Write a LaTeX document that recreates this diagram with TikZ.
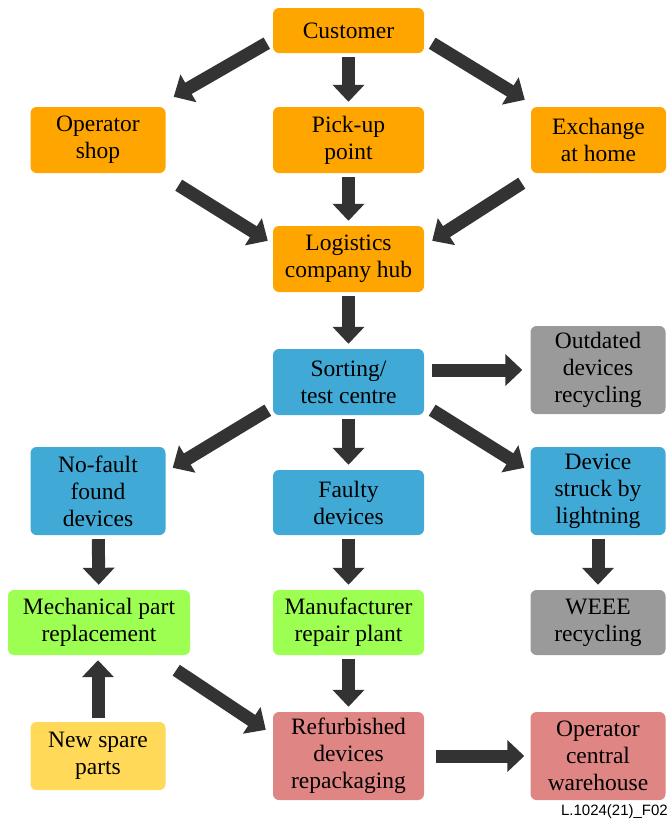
\documentclass[tikz,border=0pt]{standalone}
\usepackage{fontspec}
\setmainfont{Liberation Serif}
\newfontfamily\labelfont{Liberation Sans}
\usetikzlibrary{arrows.meta,calc}
\definecolor{cOrange}{HTML}{FFA500}
\definecolor{cBlue}{HTML}{41A9D5}
\definecolor{cGray}{HTML}{9A9A9A}
\definecolor{cGreen}{HTML}{9CFF52}
\definecolor{cYellow}{HTML}{FFD957}
\definecolor{cPink}{HTML}{DF8583}
\definecolor{cArrow}{HTML}{333333}
\tikzset{
  blk/.style={rounded corners=6pt, inner sep=2pt, align=center,
              minimum width=151pt, minimum height=66pt,
              font=\fontsize{23.5}{27}\selectfont},
  narrowblk/.style={minimum width=135pt},
  tallblk/.style={minimum height=88pt},
  orangeblk/.style={blk, fill=cOrange},
  blueblk/.style={blk, fill=cBlue},
  grayblk/.style={blk, fill=cGray},
  greenblk/.style={blk, fill=cGreen},
  yellowblk/.style={blk, fill=cYellow},
  pinkblk/.style={blk, fill=cPink},
  bigarr/.style={-{Triangle[length=17pt,width=31pt]}, line width=13pt, cArrow},
  vshort/.style={shorten <=4pt, shorten >=5pt}
}

\begin{document}
\begin{tikzpicture}[x=1pt, y=-1pt]
\useasboundingbox (0,0) rectangle (668,823);
% orange: collection
\node[orangeblk, minimum height=45pt] (cust) at (348.5,30.5) {Customer};
\node[orangeblk, narrowblk] (opshop) at (98,140) {Operator\\shop};
\node[orangeblk] (pickup) at (348.5,140) {Pick-up\\point};
\node[orangeblk, narrowblk] (exhome) at (598.5,140) {Exchange\\at home};
\node[orangeblk] (hub) at (348.5,259) {Logistics\\company hub};
% blue: sorting
\node[blueblk] (sort) at (348.5,382) {Sorting/\\test centre};
\node[grayblk, narrowblk, tallblk] (outdated) at (598,370) {Outdated\\devices\\recycling};
\node[blueblk, narrowblk, tallblk] (nofault) at (98,491) {No-fault\\found\\devices};
\node[blueblk, minimum height=65pt] (faulty) at (348.5,502.5) {Faulty\\devices};
\node[blueblk, narrowblk, tallblk] (struck) at (598,491) {Device\\struck by\\lightning};
% repair
\node[greenblk, minimum width=182pt, minimum height=65pt] (mech) at (99,622.5) {Mechanical part\\replacement};
\node[greenblk, minimum height=65pt] (manuf) at (348.5,622.5) {Manufacturer\\repair plant};
\node[grayblk, narrowblk, minimum height=65pt] (weee) at (598,622.5) {WEEE\\recycling};
\node[yellowblk, narrowblk, minimum height=68pt] (spare) at (98,756) {New spare\\parts};
\node[pinkblk, tallblk] (refurb) at (348.5,756) {Refurbished\\devices\\repackaging};
\node[pinkblk, narrowblk, tallblk] (central) at (598,756) {Operator\\central\\warehouse};
\node[font=\labelfont\fontsize{15}{17}\selectfont, anchor=east, inner sep=0pt] (figid) at (668,812) {L.1024(21)\_F02};

% arrows
\draw[bigarr] ($(cust.south west)+(-6,-10)$) -- ($(opshop.north east)+(8,-10)$);
\draw[bigarr, vshort] (cust) -- (pickup);
\draw[bigarr] ($(cust.south east)+(8,-10)$) -- ($(exhome.north west)+(-6,-7)$);
\draw[bigarr] ($(opshop.south east)+(13,12)$) -- ($(hub.north west)+(-5,15)$);
\draw[bigarr, vshort] (pickup) -- (hub);
\draw[bigarr] ($(exhome.south west)+(-9,10)$) -- ($(hub.north east)+(8,15)$);
\draw[bigarr, vshort] (hub) -- (sort);
\draw[bigarr, shorten <=8pt, shorten >=8pt] (sort.east |- outdated.west) -- (outdated.west);
\draw[bigarr] ($(sort.south west)+(-5,-5)$) -- ($(nofault.north east)+(7,21)$);
\draw[bigarr, vshort] (sort) -- (faulty);
\draw[bigarr] ($(sort.south east)+(8,-5)$) -- ($(struck.north west)+(-6,21)$);
\draw[bigarr, vshort] (nofault) -- (mech);
\draw[bigarr, vshort] (faulty) -- (manuf);
\draw[bigarr, vshort] (struck) -- (weee);
\draw[bigarr, vshort] (spare) -- (mech.south -| spare.north);
\draw[bigarr] ($(mech.south east)+(-14,15)$) -- ($(refurb.north west)+(-7,18)$);
\draw[bigarr, vshort] (manuf) -- (refurb);
\draw[bigarr, shorten <=12pt, shorten >=6pt] (refurb) -- (central);
\end{tikzpicture}
\end{document}
